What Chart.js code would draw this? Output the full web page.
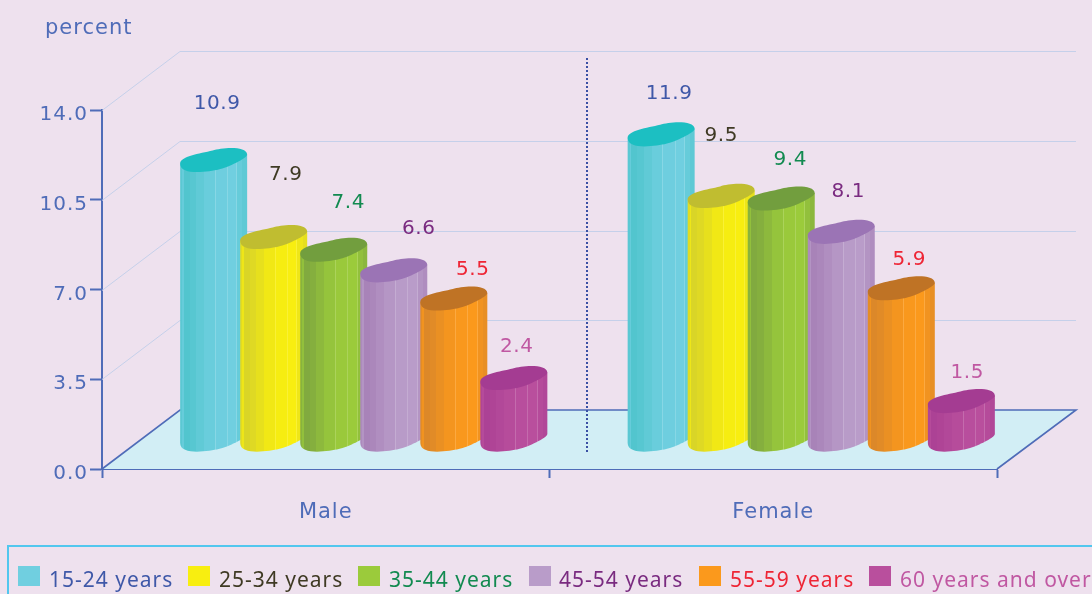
<!DOCTYPE html>
<html><head><meta charset="utf-8">
<style>html,body{margin:0;padding:0;background:#eee1ee;overflow:hidden}#w{position:relative;width:1092px;height:594px}canvas{display:block}</style>
<script src="https://cdn.jsdelivr.net/npm/chart.js@4/dist/chart.umd.min.js"></script>
</head><body><div id="w"><canvas id="c" width="1092" height="594"></canvas></div>
<script>
const categories = ['Male','Female'];
const seriesNames = ['15-24 years','25-34 years','35-44 years','45-54 years','55-59 years','60 years and over'];
const age1524 = [10.9,11.9];
const age2534 = [7.9,9.5];
const age3544 = [7.4,9.4];
const age4554 = [6.6,8.1];
const age5559 = [5.5,5.9];
const age60up = [2.4,1.5];
const seriesValues = [age1524,age2534,age3544,age4554,age5559,age60up];
const yTicks = [0,3.5,7,10.5,14];
const textColors = ['#3f58a8','#3f3a24','#128a50','#7a2b80','#ee2535','#c058a2'];
const darkColors = ['#4fc4cc','#d6d22a','#7ea63f','#a680b6','#d8862a','#ab4094'];
const lightColors = ['#70cfe0','#f8ee10','#9bcb3b','#b99cc9','#fb991c','#b94f9d'];
const topColors = ['#1cbfc2','#c0bd30','#729e3e','#9b74b5','#bf7325','#a43c92'];
const FONT = '"DejaVu Sans"';
const AXIS = '#4f6cb8';
const DX = 78, DY = 59;               // wall depth
const HW = 33.5;                      // half width of a drawn column
const labelNudge = [[[2.5,-58],[7,-42]],[[11,-64],[-1,-62]],[[13.5,-48],[8,-40]],[[24,-43],[6,-41]],[[18,-30],[7,-30]],[[2,-33],[5,-30]]];

function mix(a,b,t){const p=s=>[1,3,5].map(i=>parseInt(s.substr(i,2),16));const A=p(a),B=p(b);
  return 'rgb('+A.map((v,i)=>Math.round(v+(B[i]-v)*t)).join(',')+')';}

function columnFill(ctx,cx,i){
  const g=ctx.createLinearGradient(cx-HW,0,cx+HW,0);
  const bands=[[0,.03,.35],[.03,.05,.7],[.05,.14,.1],[.14,.24,.25],[.24,.36,.5],[.36,.52,.8],[.52,.535,1.5],[.535,.7,.95],[.7,.715,1.5],[.715,.84,1],[.84,.855,1.5],[.855,.93,.7],[.93,1,.45]];
  bands.forEach(b=>{const c=b[2]>1?mix(lightColors[i],'#ffffff',.16):mix(darkColors[i],lightColors[i],b[2]);
    g.addColorStop(b[0],c);g.addColorStop(b[1],c);});
  return g;
}
function topPath(ctx,cx,cy){
  ctx.beginPath();ctx.moveTo(cx-HW,cy+3);
  ctx.bezierCurveTo(cx-HW,cy-4,cx-14,cy-7,cx-1,cy-10);
  ctx.bezierCurveTo(cx+8,cy-13,cx+33,cy-15,cx+HW,cy-6);
  ctx.bezierCurveTo(cx+HW,cy-2,cx+14,cy+7,cx+5,cy+9);
  ctx.bezierCurveTo(cx-4,cy+11,cx-HW,cy+16,cx-HW,cy+3);
  ctx.closePath();
}
// The library's bar elements are rendered left-to-right as skewed cylinders at mid-depth of the floor
function drawColumn(ctx,el,i){
  const {x,y,base}=el.getProps(['x','y','base'],true);
  const cx=x+DX/2-1, t=y-DY/2+.5, b=base-DY/2+1;
  ctx.save();
  ctx.beginPath();ctx.moveTo(cx-HW,t+3);ctx.lineTo(cx-HW,b+3);
  ctx.bezierCurveTo(cx-HW,b+16,cx-4,b+11,cx+5,b+9);
  ctx.bezierCurveTo(cx+14,b+7,cx+HW,b-2,cx+HW,b-6);
  ctx.lineTo(cx+HW,t-6);ctx.closePath();
  ctx.fillStyle=columnFill(ctx,cx,i);ctx.fill();
  topPath(ctx,cx,t);ctx.fillStyle=topColors[i];ctx.fill();
  ctx.restore();
}
Chart.BarElement.prototype.draw=function(){};
const stage={id:'stage',
  beforeDraw(ch){ch.ctx.letterSpacing='1px';},
  beforeDatasetsDraw(ch){
    const c=ch.ctx,a=ch.chartArea,y=ch.scales.y,x=ch.scales.x;
    const R=a.right,L=a.left,B=a.bottom;
    c.save();
    // walls' grid
    c.strokeStyle='#c5d0ea';c.lineWidth=1;
    yTicks.slice(1).forEach(v=>{const p=Math.round(y.getPixelForValue(v))+.5;
      c.beginPath();c.moveTo(L,p);c.lineTo(L+DX,p-DY);c.lineTo(R+DX+1,p-DY);c.stroke();});
    // floor
    c.beginPath();c.moveTo(L,B);c.lineTo(L+DX,B-DY);c.lineTo(R+DX+1,B-DY);c.lineTo(R,B);c.closePath();
    c.fillStyle='#d2eef5';c.fill();
    c.strokeStyle=AXIS;c.lineWidth=1.6;
    c.beginPath();c.moveTo(L,B);c.lineTo(L+DX,B-DY);c.lineTo(R+DX+1,B-DY);c.lineTo(R,B);c.stroke();
    // separator between the two groups
    const sep=(x.getPixelForValue(0)+x.getPixelForValue(1))/2+DX/2-2;
    c.strokeStyle='#3a50a4';c.lineWidth=2;c.setLineDash([2,2]);
    c.beginPath();c.moveTo(Math.round(sep),B-411);c.lineTo(Math.round(sep),B-16);c.stroke();
    c.restore();
  },
  afterDatasetsDraw(ch){
    const c=ch.ctx;
    seriesValues.forEach((vals,i)=>ch.getDatasetMeta(i).data.forEach(el=>drawColumn(c,el,i)));
    c.save();
    c.font='20px '+FONT;c.letterSpacing='0.6px';c.textAlign='center';c.textBaseline='middle';
    seriesValues.forEach((vals,i)=>{const m=ch.getDatasetMeta(i);
      vals.forEach((v,j)=>{const el=m.data[j],n=labelNudge[i][j];
        c.fillStyle=textColors[i];
        c.fillText(v.toFixed(1),el.x+DX/2+n[0],el.y-DY/2+n[1]+1.5);});});
    c.textAlign='left';c.fillStyle=AXIS;c.font='21px '+FONT;c.letterSpacing='1px';
    c.fillText('percent',45,29);
    // legend
    c.strokeStyle='#52c7ee';c.lineWidth=2;c.strokeRect(8,546,1100,60);
    c.font='21px "Noto Sans"';c.letterSpacing='1px';
    const sx=[18,188,358,529,699,869],tx=[49,219,389,559,730,900];
    seriesNames.forEach((s,i)=>{c.fillStyle=lightColors[i];
      c.fillRect(sx[i],566,22,20);
      c.fillStyle=textColors[i];c.fillText(s,tx[i],581);});
    c.restore();
  }};
new Chart(document.getElementById('c'),{
  type:'bar',
  data:{labels:categories,datasets:seriesValues.map((d,i)=>({label:seriesNames[i],data:d,backgroundColor:lightColors[i],clip:false,categoryPercentage:.805,barPercentage:1}))},
  options:{responsive:false,animation:false,
    layout:{padding:{top:110,right:95,left:0,bottom:0}},
    plugins:{legend:{display:false},title:{display:false},tooltip:{enabled:false}},
    scales:{
      x:{afterFit(s){s.height=125},border:{color:AXIS,width:2},
        grid:{offset:true,drawOnChartArea:false,tickLength:9,tickWidth:2,tickColor:AXIS,color:AXIS},
        ticks:{padding:22,color:AXIS,font:{family:FONT,size:21},maxRotation:0}},
      y:{min:0,max:14,afterFit(s){s.width=102},afterBuildTicks(s){s.ticks=yTicks.map(v=>({value:v}))},
        border:{color:AXIS,width:2},
        grid:{drawOnChartArea:false,tickLength:12,tickWidth:2,tickColor:AXIS,color:AXIS},
        ticks:{padding:2,labelOffset:5,color:AXIS,font:{family:FONT,size:20},callback:v=>Number(v).toFixed(1)}}
    }},
  plugins:[stage]
});
</script></body></html>
